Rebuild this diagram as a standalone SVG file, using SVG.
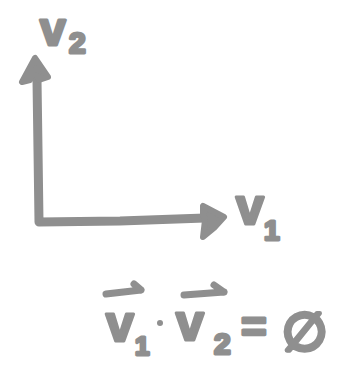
<svg xmlns="http://www.w3.org/2000/svg" width="360" height="369" viewBox="0 0 360 369">
<style>
.s{fill:none;stroke:#8f8f8f;stroke-linecap:round;stroke-linejoin:round}
.t{font-family:"Liberation Sans",Arial,sans-serif;font-weight:bold;fill:#8f8f8f;stroke:#8f8f8f;stroke-width:3;stroke-linejoin:round}
.h{fill:#8f8f8f;stroke:#8f8f8f;stroke-width:6;stroke-linejoin:round}
</style>
<rect width="360" height="369" fill="#ffffff"/>
<g id="connectors">
<path class="s" stroke-width="9" d="M37,80 L38,150 L39,222 L120,221 L205,218"/>
<polygon class="h" points="35,58 22,82 30,80 32,74 38,76 39,80 48,77"/>
<polygon class="h" points="224,217 203,206 203,214 205,220 203,237 214,228"/>
</g>
<g id="label-v2">
<text class="t" x="40" y="45" font-size="46">v</text>
<text class="t" x="69" y="53" font-size="30">2</text>
</g>
<g id="label-v1">
<text class="t" x="236" y="224" font-size="50">v</text>
<text class="t" x="264" y="240" font-size="28">1</text>
</g>
<g id="equation">
<path class="s" stroke-width="7" d="M106,294 L141,290 M134,284 L141,290"/>
<text class="t" x="106" y="341" font-size="50">v</text>
<text class="t" x="135" y="355" font-size="26">1</text>
<circle cx="160" cy="323" r="3" fill="#8f8f8f"/>
<path class="s" stroke-width="7" d="M184,295 L224,292 M214,285 L224,292"/>
<text class="t" x="176" y="340" font-size="50">v</text>
<text class="t" x="214" y="354" font-size="30">2</text>
<text class="t" x="241" y="342" font-size="44">=</text>
<text class="t" x="282" y="350" font-size="52">∅</text>
</g>
</svg>
